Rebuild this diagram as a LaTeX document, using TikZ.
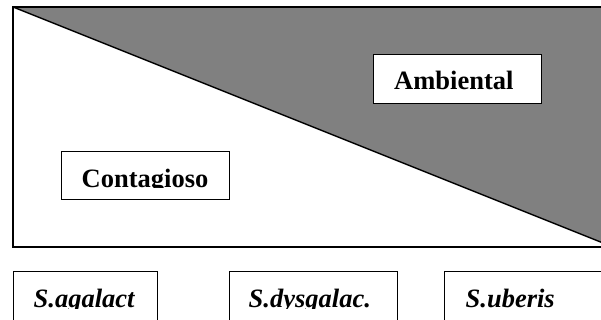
\documentclass[tikz,border=0pt]{standalone}
\usepackage{fontspec}
\setmainfont{Liberation Serif}
\definecolor{areagray}{HTML}{808080}
\begin{document}
\begin{tikzpicture}[x=1pt,y=-1pt,
  frameline/.style={line width=1.4pt},
  box/.style={draw, line width=1.4pt, fill=white, anchor=north west, inner sep=0pt, minimum width=#1},
  lbl/.style={anchor=base west, inner sep=0pt, font=\fontsize{26.5}{30}\selectfont\bfseries},
  ilbl/.style={lbl, font=\fontsize{26.5}{30}\selectfont\bfseries\itshape}]
\useasboundingbox (0,0) rectangle (601,320);
\clip (0,0) rectangle (601,320);
% frame with grey triangle
\coordinate (tl) at (13,7);
\coordinate (tr) at (613,7);
\coordinate (br) at (613,247);
\coordinate (bl) at (13,247);
\fill[areagray] (tl) -- (tr) -- (br) -- cycle;
\draw[frameline] (tl) -- (tr) -- (br) -- (bl) -- cycle;
\draw[frameline] (tl) -- (br);
% boxes
\node[box=168pt, minimum height=48pt] (cont) at (61,151) {};
\node[box=168pt, minimum height=49pt] (amb) at (373,54) {};
\node[box=144pt, minimum height=60pt] (aga) at (13,271) {};
\node[box=168pt, minimum height=60pt] (dys) at (229,271) {};
\node[box=168pt, minimum height=60pt] (ube) at (444,271) {};
% labels (clipped just below baseline, as in the reference)
\begin{scope}
\clip ([yshift=-1pt]cont.north west) rectangle ([yshift=-37pt]cont.north east);
\node[lbl] (tcont) at ([xshift=20.5pt,yshift=-36pt]cont.north west) {Contagioso};
\end{scope}
\begin{scope}
\clip ([yshift=-1pt]amb.north west) rectangle ([yshift=-37pt]amb.north east);
\node[lbl] (tamb) at ([xshift=21pt,yshift=-36pt]amb.north west) {Ambiental};
\end{scope}
\begin{scope}
\clip ([yshift=-1pt]aga.north west) rectangle ([yshift=-37pt]aga.north east);
\node[ilbl] (taga) at ([xshift=20.5pt,yshift=-36pt]aga.north west) {S.agalact};
\end{scope}
\begin{scope}
\clip ([yshift=-1pt]dys.north west) rectangle ([yshift=-37pt]dys.north east);
\node[ilbl] (tdys) at ([xshift=19.5pt,yshift=-36pt]dys.north west) {S.dysgalac.};
\end{scope}
\begin{scope}
\clip ([yshift=-1pt]ube.north west) rectangle ([yshift=-37pt]ube.north east);
\node[ilbl] (tube) at ([xshift=21.5pt,yshift=-36pt]ube.north west) {S.uberis};
\end{scope}
\end{tikzpicture}
\end{document}
